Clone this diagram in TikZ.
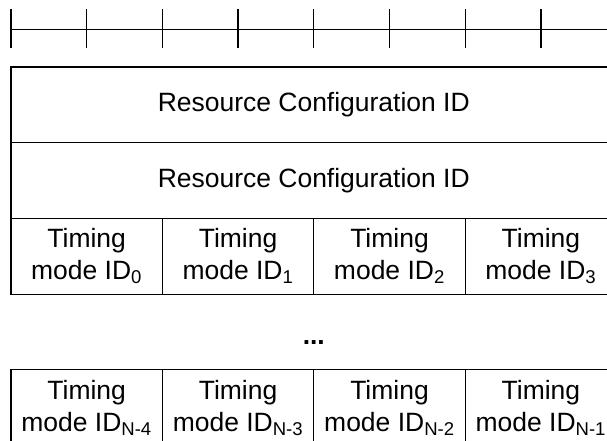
\documentclass[tikz,border=0pt]{standalone}
\usepackage{fontspec}
\setmainfont{Liberation Sans}
\usetikzlibrary{positioning}

\begin{document}
\begin{tikzpicture}[
    field/.style={rectangle, draw, line width=0.8pt, minimum height=2cm, minimum width=#1, inner sep=0pt, align=center, font={\fontsize{19.9}{24}\selectfont}},
    field/.default=4cm,
    ruler/.style={line width=0.9pt},
    gap/.style={font={\fontsize{19.9}{24}\selectfont\bfseries}},
]
\clip (-0.29,1.77) rectangle (15.746,-9.88);

% ========== RULER (y=1) ==========
\draw[ruler] (0,1) -- (16,1);
\foreach \x in {0,2,...,16}
    \draw[ruler] (\x,0.5) -- (\x,1.53);

% ========== CONFIG ROWS ==========
\node[field=16cm] at (8,-1) (cfg1) {Resource Configuration ID};
\node[field=16cm] at (8,-3) (cfg2) {Resource Configuration ID};

% ========== TIMING MODES 0..3 (y=-5) ==========
\node[field] at (2,-5) (tm0) {Timing\\mode ID\textsubscript{0}};
\node[field] at (6,-5) (tm1) {Timing\\mode ID\textsubscript{1}};
\node[field] at (10,-5) (tm2) {Timing\\mode ID\textsubscript{2}};
\node[field] at (14,-5) (tm3) {Timing\\mode ID\textsubscript{3}};

% gap
\node[gap] at (8,-7.27) (skip) {...};

% ========== TIMING MODES N-4..N-1 (y=-9) ==========
\node[field] at (2,-9) (tmA) {Timing\\mode ID\textsubscript{N-4}};
\node[field] at (6,-9) (tmB) {Timing\\mode ID\textsubscript{N-3}};
\node[field] at (10,-9) (tmC) {Timing\\mode ID\textsubscript{N-2}};
\node[field] at (14,-9) (tmD) {Timing\\mode ID\textsubscript{N-1}};

\end{tikzpicture}
\end{document}
